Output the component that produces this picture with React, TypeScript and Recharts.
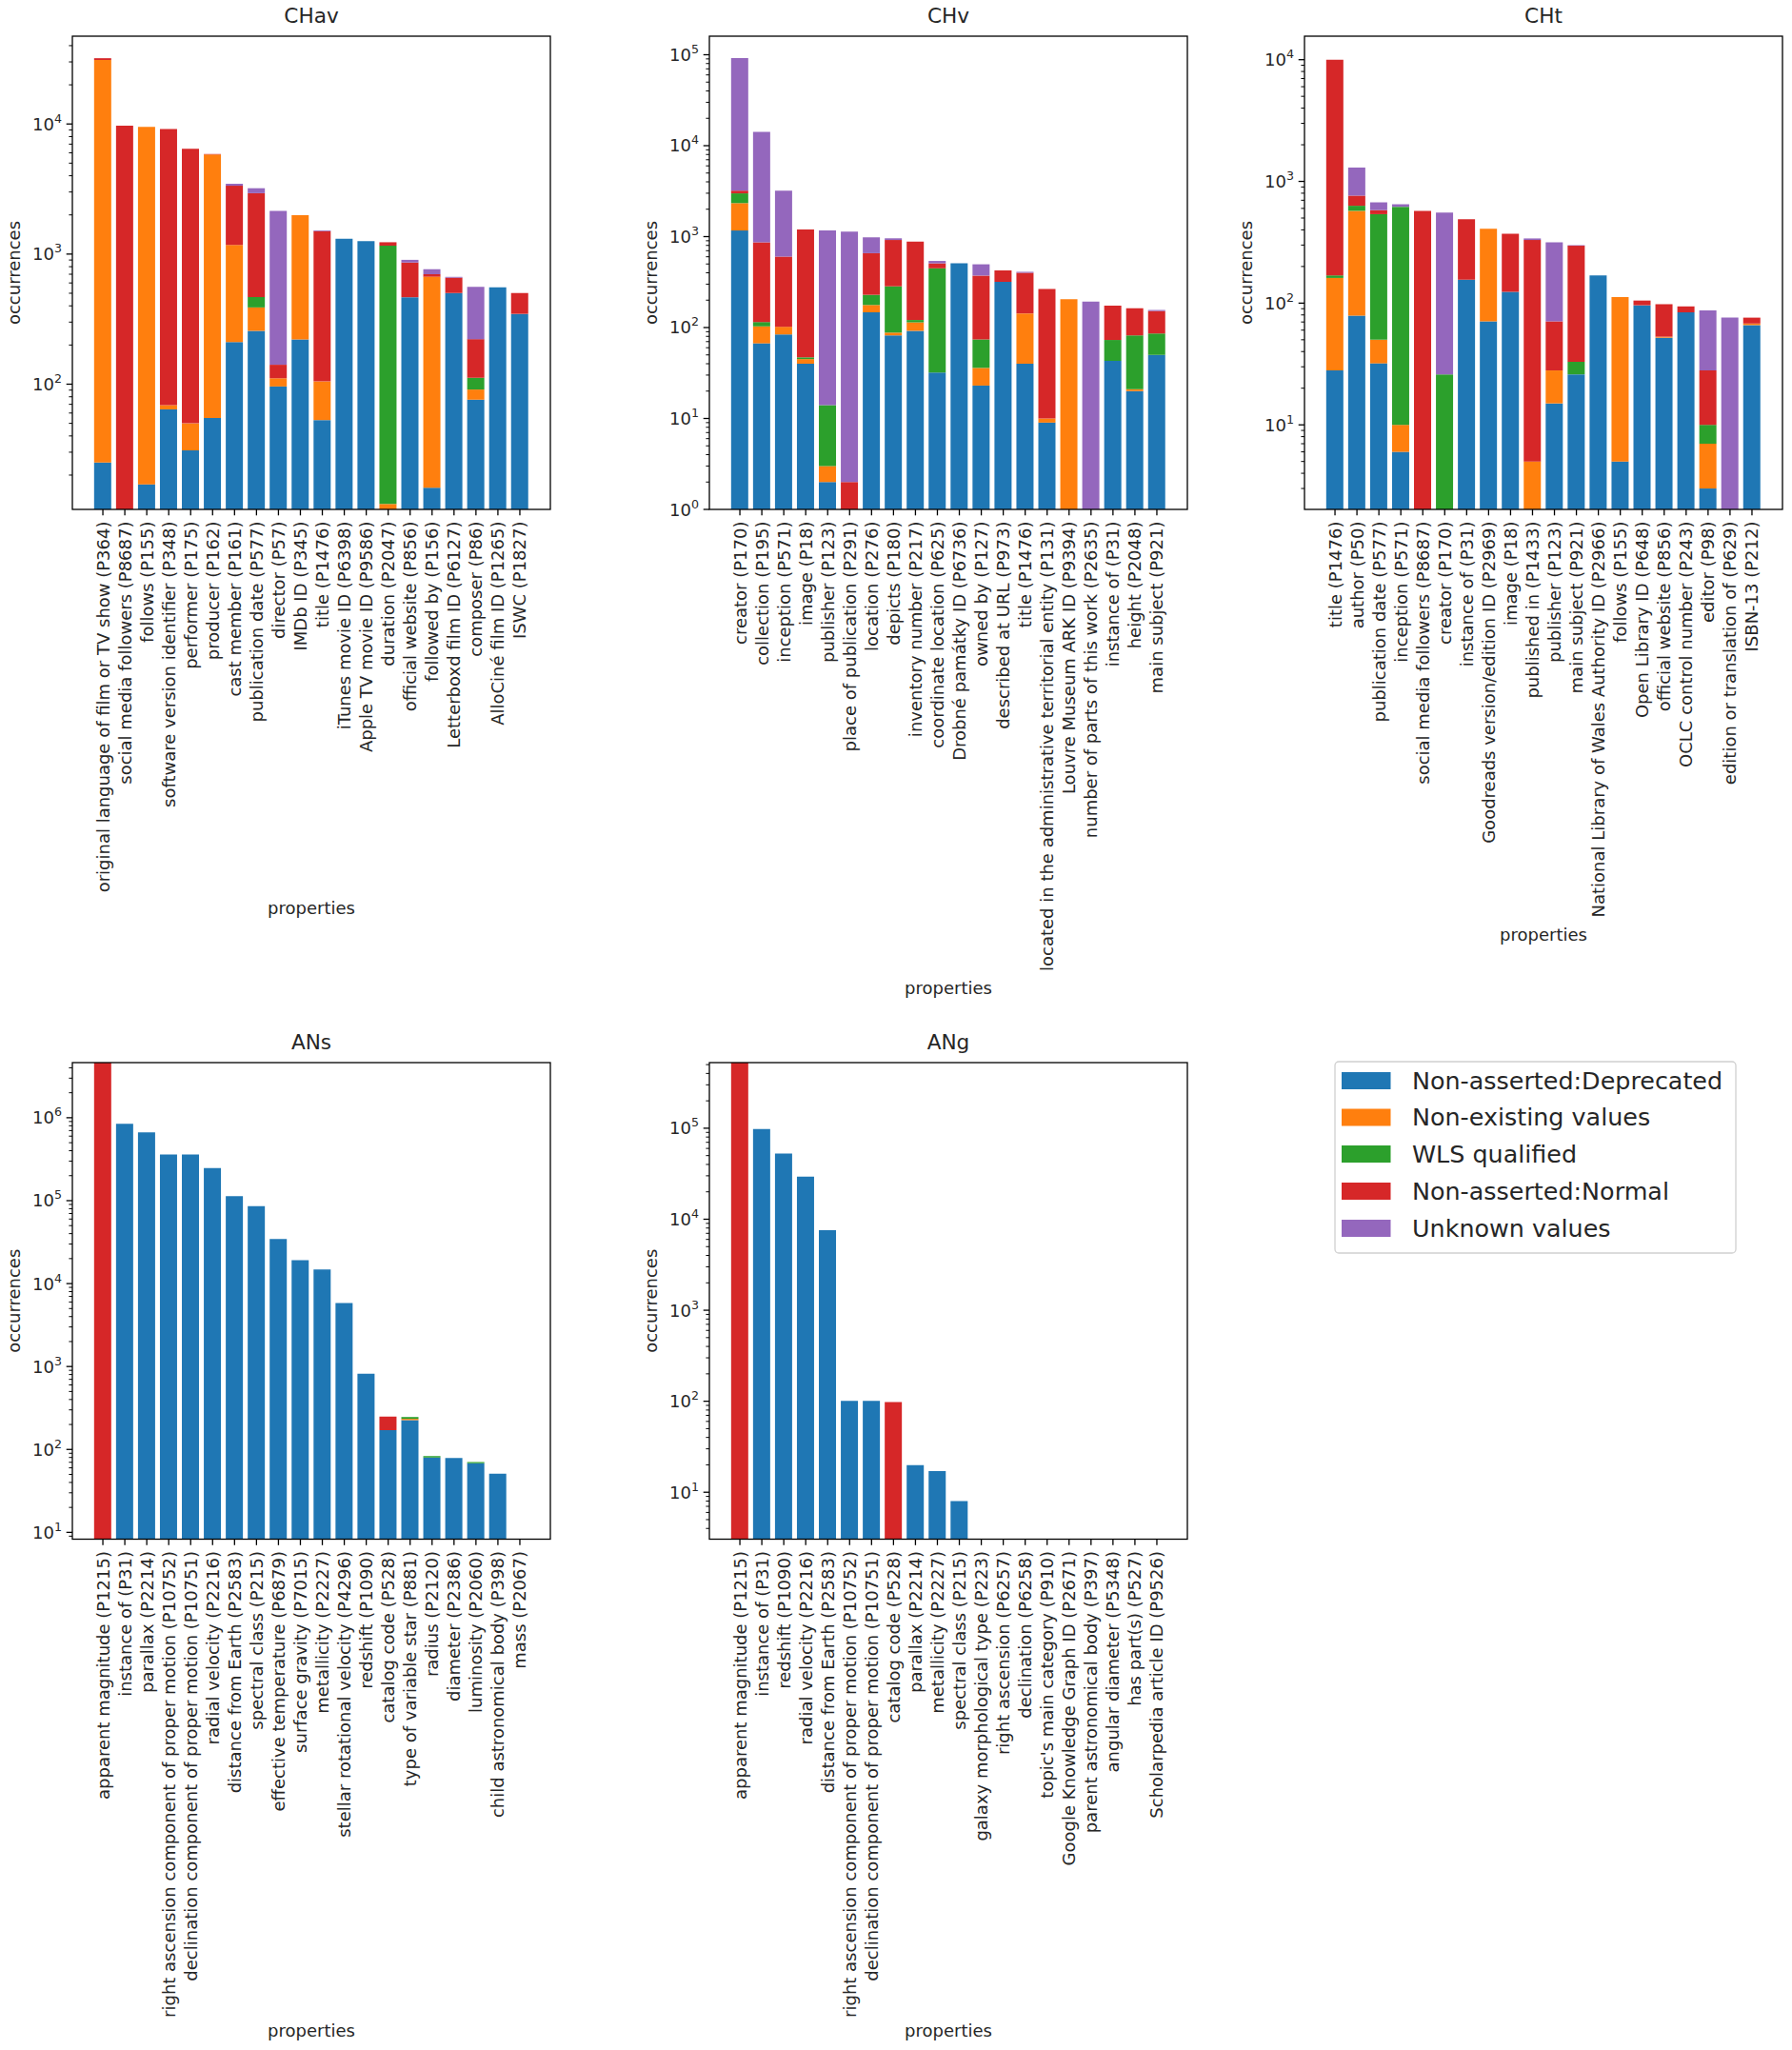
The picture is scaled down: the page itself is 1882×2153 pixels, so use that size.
import React from 'react';
import { BarChart, Bar, XAxis, YAxis } from 'recharts';

const FONT = '"DejaVu Sans", Verdana, sans-serif';
const TXT = '#262626';

const SERIES_NAMES = ['Non-asserted:Deprecated', 'Non-existing values', 'WLS qualified', 'Non-asserted:Normal', 'Unknown values'];
const SERIES_COLORS = ['#1f77b4', '#ff7f0e', '#2ca02c', '#d62728', '#9467bd'];

// ---------- CHav ----------
const chavCategories = [
  'original language of film or TV show (P364)', 'social media followers (P8687)', 'follows (P155)',
  'software version identifier (P348)', 'performer (P175)', 'producer (P162)', 'cast member (P161)',
  'publication date (P577)', 'director (P57)', 'IMDb ID (P345)', 'title (P1476)', 'iTunes movie ID (P6398)',
  'Apple TV movie ID (P9586)', 'duration (P2047)', 'official website (P856)', 'followed by (P156)',
  'Letterboxd film ID (P6127)', 'composer (P86)', 'AlloCiné film ID (P1265)', 'ISWC (P1827)',
];
const chavDeprecated = [25, 0, 17, 64, 31, 55, 211, 257, 96, 221, 53, 1310, 1256, 0, 466, 16, 502, 76, 556, 347];
const chavNonExisting = [31000, 0, 9500, 5, 19, 5770, 964, 132, 15, 1770, 52, 0, 0, 12, 0, 654, 0, 15, 0, 0];
const chavWls = [0, 0, 0, 0, 0, 0, 0, 79, 0, 0, 0, 0, 0, 1148, 0, 0, 0, 21, 0, 0];
const chavNormal = [1000, 9700, 0, 9070, 6410, 50, 2175, 2470, 30, 0, 1395, 0, 0, 73, 395, 30, 156, 110, 0, 155];
const chavUnknown = [0, 0, 0, 0, 0, 0, 120, 270, 2010, 0, 20, 0, 0, 0, 42, 65, 10, 339, 0, 0];

// ---------- CHv ----------
const chvCategories = [
  'creator (P170)', 'collection (P195)', 'inception (P571)', 'image (P18)', 'publisher (P123)',
  'place of publication (P291)', 'location (P276)', 'depicts (P180)', 'inventory number (P217)',
  'coordinate location (P625)', 'Drobné památky ID (P6736)', 'owned by (P127)', 'described at URL (P973)',
  'title (P1476)', 'located in the administrative territorial entity (P131)', 'Louvre Museum ARK ID (P9394)',
  'number of parts of this work (P2635)', 'instance of (P31)', 'height (P2048)', 'main subject (P921)',
];
const chvDeprecated = [1167, 67, 84, 40, 2, 0, 147, 82, 92, 32, 508, 23, 318, 40, 9, 0, 0, 43, 20, 50];
const chvNonExisting = [1168, 36, 18, 5, 1, 0, 30, 6, 22, 0, 0, 13, 0, 103, 1, 205, 0, 0, 1, 0];
const chvWls = [655, 12, 0, 2, 11, 0, 52, 196, 7, 416, 0, 38, 0, 0, 0, 0, 0, 30, 61, 36];
const chvNormal = [215, 748, 501, 1150, 0, 2, 428, 634, 758, 60, 0, 299, 107, 257, 255, 0, 0, 101, 81, 66];
const chvUnknown = [88600, 13340, 2600, 0, 1153, 1135, 325, 40, 0, 32, 0, 123, 0, 10, 0, 0, 193, 0, 0, 4];

// ---------- CHt ----------
const chtCategories = [
  'title (P1476)', 'author (P50)', 'publication date (P577)', 'inception (P571)', 'social media followers (P8687)',
  'creator (P170)', 'instance of (P31)', 'Goodreads version/edition ID (P2969)', 'image (P18)',
  'published in (P1433)', 'publisher (P123)', 'main subject (P921)', 'National Library of Wales Authority ID (P2966)',
  'follows (P155)', 'Open Library ID (P648)', 'official website (P856)', 'OCLC control number (P243)',
  'editor (P98)', 'edition or translation of (P629)', 'ISBN-13 (P212)',
];
const chtDeprecated = [28, 79, 32, 6, 0, 0, 156, 71, 124, 0, 15, 26, 169, 5, 96, 52, 84, 3, 0, 66];
const chtNonExisting = [133, 494, 18, 4, 0, 0, 0, 337, 0, 5, 13, 0, 0, 107, 0, 1, 0, 4, 0, 2];
const chtWls = [8, 58, 488, 609, 0, 26, 0, 0, 0, 0, 0, 7, 0, 0, 0, 0, 0, 3, 0, 0];
const chtNormal = [9830, 133, 43, 0, 573, 0, 333, 0, 247, 325, 43, 263, 0, 0, 9, 45, 10, 18, 0, 8];
const chtUnknown = [0, 536, 92, 30, 0, 529, 0, 0, 0, 10, 245, 3, 0, 0, 0, 0, 0, 59, 76, 0];

// ---------- ANs ----------
const ansCategories = [
  'apparent magnitude (P1215)', 'instance of (P31)', 'parallax (P2214)',
  'right ascension component of proper motion (P10752)', 'declination component of proper motion (P10751)',
  'radial velocity (P2216)', 'distance from Earth (P2583)', 'spectral class (P215)', 'effective temperature (P6879)',
  'surface gravity (P7015)', 'metallicity (P2227)', 'stellar rotational velocity (P4296)', 'redshift (P1090)',
  'catalog code (P528)', 'type of variable star (P881)', 'radius (P2120)', 'diameter (P2386)',
  'luminosity (P2060)', 'child astronomical body (P398)', 'mass (P2067)',
];
const ansDeprecated = [0, 843000, 666000, 360000, 360000, 247000, 113000, 85700, 34600, 19200, 14800, 5840, 818, 171, 226, 80, 79, 68, 51, 0];
const ansNonExisting = [0, 0, 0, 0, 0, 0, 0, 0, 0, 0, 0, 0, 0, 0, 8, 0, 0, 0, 0, 0];
const ansWls = [0, 0, 0, 0, 0, 0, 0, 0, 0, 0, 0, 0, 0, 0, 12, 3, 0, 2.5, 0, 0];
const ansNormal = [6000000, 0, 0, 0, 0, 0, 0, 0, 0, 0, 0, 0, 0, 78, 0, 0, 0, 0, 0, 0];
const ansUnknown = [0, 0, 0, 0, 0, 0, 0, 0, 0, 0, 0, 0, 0, 0, 0, 0, 0, 0, 0, 0];

// ---------- ANg ----------
const angCategories = [
  'apparent magnitude (P1215)', 'instance of (P31)', 'redshift (P1090)', 'radial velocity (P2216)',
  'distance from Earth (P2583)', 'right ascension component of proper motion (P10752)',
  'declination component of proper motion (P10751)', 'catalog code (P528)', 'parallax (P2214)',
  'metallicity (P2227)', 'spectral class (P215)', 'galaxy morphological type (P223)', 'right ascension (P6257)',
  'declination (P6258)', "topic's main category (P910)", 'Google Knowledge Graph ID (P2671)',
  'parent astronomical body (P397)', 'angular diameter (P5348)', 'has part(s) (P527)', 'Scholarpedia article ID (P9526)',
];
const angDeprecated = [0, 98200, 52700, 29400, 7600, 101, 101, 0, 19.9, 17.1, 8, 0, 0, 0, 0, 0, 0, 0, 0, 0];
const angNonExisting = [0, 0, 0, 0, 0, 0, 0, 0, 0, 0, 0, 0, 0, 0, 0, 0, 0, 0, 0, 0];
const angWls = [0, 0, 0, 0, 0, 0, 0, 0, 0, 0, 0, 0, 0, 0, 0, 0, 0, 0, 0, 0];
const angNormal = [1000000, 0, 0, 0, 0, 0, 0, 98, 0, 0, 0, 0, 0, 0, 0, 0, 0, 0, 0, 0];
const angUnknown = [0, 0, 0, 0, 0, 0, 0, 0, 0, 0, 0, 0, 0, 0, 0, 0, 0, 0, 0, 0];

// ---------- layout ----------
const Y_W = 76;
const PLOT_W = 502;
const TOP_M = 38;
const RIGHT_M = 4;
const X_H = 540;
const UNIT = PLOT_W / 21.78;
const PAD = (UNIT * 21.78 - UNIT * 20) / 2;

type Panel = {
  title: string; left: number; top: number; plotH: number; cats: string[]; series: number[][];
  domain: [number, number]; propY: number;
};

const panels: Panel[] = [
  { title: 'CHav', left: 0, top: 0, plotH: 497, cats: chavCategories, series: [chavDeprecated, chavNonExisting, chavWls, chavNormal, chavUnknown], domain: [10.9, 47300], propY: 960 },
  { title: 'CHv', left: 669, top: 0, plotH: 497, cats: chvCategories, series: [chvDeprecated, chvNonExisting, chvWls, chvNormal, chvUnknown], domain: [1, 160000], propY: 1044 },
  { title: 'CHt', left: 1294, top: 0, plotH: 497, cats: chtCategories, series: [chtDeprecated, chtNonExisting, chtWls, chtNormal, chtUnknown], domain: [2.02, 15600], propY: 988 },
  { title: 'ANs', left: 0, top: 1078, plotH: 500.5, cats: ansCategories, series: [ansDeprecated, ansNonExisting, ansWls, ansNormal, ansUnknown], domain: [8.28, 4620000], propY: 2139 },
  { title: 'ANg', left: 669, top: 1078, plotH: 500.5, cats: angCategories, series: [angDeprecated, angNonExisting, angWls, angNormal, angUnknown], domain: [3.05, 526000], propY: 2139 },
];

function logTicks(lo: number, hi: number): number[] {
  const out: number[] = [];
  for (let d = Math.floor(Math.log10(lo)); d <= Math.ceil(Math.log10(hi)); d++) {
    for (let m = 1; m <= 9; m++) {
      const v = m * Math.pow(10, d);
      if (v >= lo && v <= hi) out.push(v);
    }
  }
  return out;
}

function buildRows(p: Panel) {
  const lo = p.domain[0];
  return p.cats.map((name, i) => {
    const row: any = { name };
    let cum = 0;
    p.series.forEach((s, k) => {
      const base = cum > 0 ? cum : lo;
      const v = s[i];
      cum += v;
      row[`seg${k}`] = v > 0 ? [base, cum] : [base, base];
    });
    return row;
  });
}

const XTick = (props: any) => {
  const { x, y, payload } = props;
  return (
    <g>
      <line x1={x} x2={x} y1={y} y2={y + 6.3} stroke="#000" strokeWidth={1.3} />
      <text
        transform={`translate(${x},${y + 12.5}) rotate(-90)`}
        textAnchor="end"
        dominantBaseline="central"
        fontSize={18}
        fontFamily={FONT}
        fill={TXT}
      >
        {payload.value}
      </text>
    </g>
  );
};

const YTick = (props: any) => {
  const { x, y, payload } = props;
  const v = payload.value as number;
  const lg = Math.log10(v);
  const e = Math.round(lg);
  const major = Math.abs(lg - e) < 1e-6;
  return (
    <g>
      <line x1={x - (major ? 6.3 : 3.6)} x2={x} y1={y} y2={y} stroke="#000" strokeWidth={major ? 1.3 : 1} />
      {major && (
        <text x={x - 11} y={y} dy={6.5} textAnchor="end" fontSize={18} fontFamily={FONT} fill={TXT}>
          10<tspan dy={-8} fontSize={12.6}>{e}</tspan>
        </text>
      )}
    </g>
  );
};

const PanelChart = ({ p }: { p: Panel }) => {
  const rows = buildRows(p);
  const ticks = logTicks(p.domain[0], p.domain[1]);
  return (
    <div style={{ position: 'absolute', left: p.left, top: p.top }}>
      <BarChart
        width={Y_W + PLOT_W + RIGHT_M}
        height={TOP_M + p.plotH + X_H}
        data={rows}
        margin={{ top: TOP_M, right: RIGHT_M, bottom: 0, left: 0 }}
        barCategoryGap="10%"
      >
        {SERIES_NAMES.map((n, k) => (
          <XAxis
            key={`x${k}`}
            xAxisId={`s${k}`}
            dataKey="name"
            type="category"
            interval={0}
            padding={{ left: PAD, right: PAD }}
            hide={k > 0}
            tick={<XTick />}
            tickLine={false}
            axisLine={false}
            tickSize={0}
            tickMargin={0}
            height={X_H}
          />
        ))}
        <YAxis
          type="number"
          scale="log"
          domain={p.domain}
          allowDataOverflow
          ticks={ticks}
          interval={0}
          tick={<YTick />}
          tickLine={false}
          axisLine={false}
          tickSize={0}
          tickMargin={0}
          width={Y_W}
        />
        {SERIES_NAMES.map((n, k) => (
          <Bar
            key={n}
            name={n}
            xAxisId={`s${k}`}
            dataKey={`seg${k}`}
            fill={SERIES_COLORS[k]}
            isAnimationActive={false}
          />
        ))}
      </BarChart>
    </div>
  );
};

const Overlay = () => {
  const legendRows = [1135, 1173.5, 1212, 1251, 1290];
  return (
    <svg
      width={1882}
      height={2153}
      style={{ position: 'absolute', left: 0, top: 0, pointerEvents: 'none' }}
    >
      {panels.map((p) => {
        const px = p.left + Y_W;
        const py = p.top + TOP_M;
        return (
          <g key={p.title}>
            <rect x={px} y={py} width={PLOT_W} height={p.plotH} fill="none" stroke="#000" strokeWidth={1.3} />
            <text x={px + PLOT_W / 2} y={py - 14} textAnchor="middle" fontSize={21.6} fontFamily={FONT} fill={TXT}>
              {p.title}
            </text>
            <text
              transform={`translate(${px - 62},${py + p.plotH / 2}) rotate(-90)`}
              textAnchor="middle"
              dominantBaseline="central"
              fontSize={18}
              fontFamily={FONT}
              fill={TXT}
            >
              occurrences
            </text>
            <text x={px + PLOT_W / 2} y={p.propY} textAnchor="middle" fontSize={18} fontFamily={FONT} fill={TXT}>
              properties
            </text>
          </g>
        );
      })}
      <rect x={1402} y={1115} width={421} height={201} rx={4} ry={4} fill="#fff" fillOpacity={0.8} stroke="#d0d0d0" strokeWidth={1.3} />
      {SERIES_NAMES.map((n, k) => (
        <g key={n}>
          <rect x={1409} y={legendRows[k] - 9} width={51.5} height={18} fill={SERIES_COLORS[k]} />
          <text x={1483} y={legendRows[k]} dy={8.5} fontSize={25.4} fontFamily={FONT} fill={TXT}>
            {n}
          </text>
        </g>
      ))}
    </svg>
  );
};

export default function App() {
  return (
    <div style={{ position: 'absolute', left: 0, top: 0, width: 1882, height: 2153, background: '#fff', overflow: 'hidden' }}>
      {panels.map((p) => (
        <PanelChart key={p.title} p={p} />
      ))}
      <Overlay />
    </div>
  );
}
